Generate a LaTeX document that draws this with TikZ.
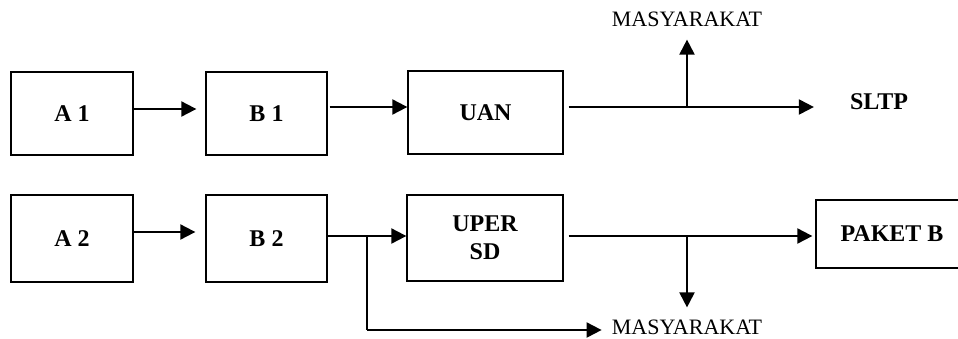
\documentclass[tikz,border=0pt]{standalone}
\usepackage{fontspec}
\setmainfont{Liberation Serif}
\usetikzlibrary{arrows.meta}
\begin{document}
\begin{tikzpicture}[x=1pt,y=-1pt,
  box/.style={draw,line width=1.3pt,inner sep=0pt,align=center,font=\fontsize{24}{28}\selectfont\bfseries},
  lbl/.style={inner sep=0pt,font=\fontsize{22}{24}\selectfont},
  blbl/.style={inner sep=0pt,font=\fontsize{24}{28}\selectfont\bfseries},
  arr/.style={line width=2pt,-{Triangle[length=15pt,width=15pt]}},
  ln/.style={line width=2pt}]
\useasboundingbox (0,0) rectangle (958,338);
\node[box,minimum width=122pt,minimum height=83pt] (a1) at (72,113.5) {A 1};
\node[box,minimum width=121pt,minimum height=83pt] (b1) at (266.5,113.5) {B 1};
\node[box,minimum width=155pt,minimum height=83pt] (uan) at (485.5,112.5) {UAN};
\node[box,minimum width=122pt,minimum height=87pt] (a2) at (72,238.5) {A 2};
\node[box,minimum width=121pt,minimum height=87pt] (b2) at (266.5,238.5) {B 2};
\node[box,minimum width=156pt,minimum height=86pt] (uper) at (485,238) {UPER\\SD};
\node[box,minimum width=152pt,minimum height=68pt] (paket) at (892,234) {PAKET B};
\node[blbl] (sltp) at (879,102) {SLTP};
\node[lbl] (m1) at (687,19) {MASYARAKAT};
\node[lbl] (m2) at (687,327) {MASYARAKAT};
\coordinate (j1) at (687,107);
\coordinate (j2) at (687,236);
\coordinate (j3) at (367,236);
\coordinate (j4) at (367,330);
% row 1
\draw[arr,shorten >=9pt] (a1.east |- 0,109) -- (b1.west |- 0,109);
\draw[arr,shorten <=2pt] (b1.east |- 0,107) -- (uan.west |- 0,107);
\draw[arr,shorten <=5pt,shorten >=36pt] (uan.east |- 0,107) -- (sltp.west |- 0,107);
\draw[arr,shorten >=13pt] (j1) -- (m1.south);
% row 2
\draw[arr,shorten >=10pt] (a2.east |- 0,232) -- (b2.west |- 0,232);
\draw[arr] (b2.east |- j3) -- (uper.west |- j3);
\draw[ln] (j3) -- (j4);
\draw[arr,shorten >=10pt] (j4) -- (m2.west |- j4);
\draw[arr,shorten <=5pt,shorten >=3pt] (uper.east |- j2) -- (paket.west |- j2);
\draw[arr,shorten >=12pt] (j2) -- (m2.north);
\end{tikzpicture}
\end{document}
